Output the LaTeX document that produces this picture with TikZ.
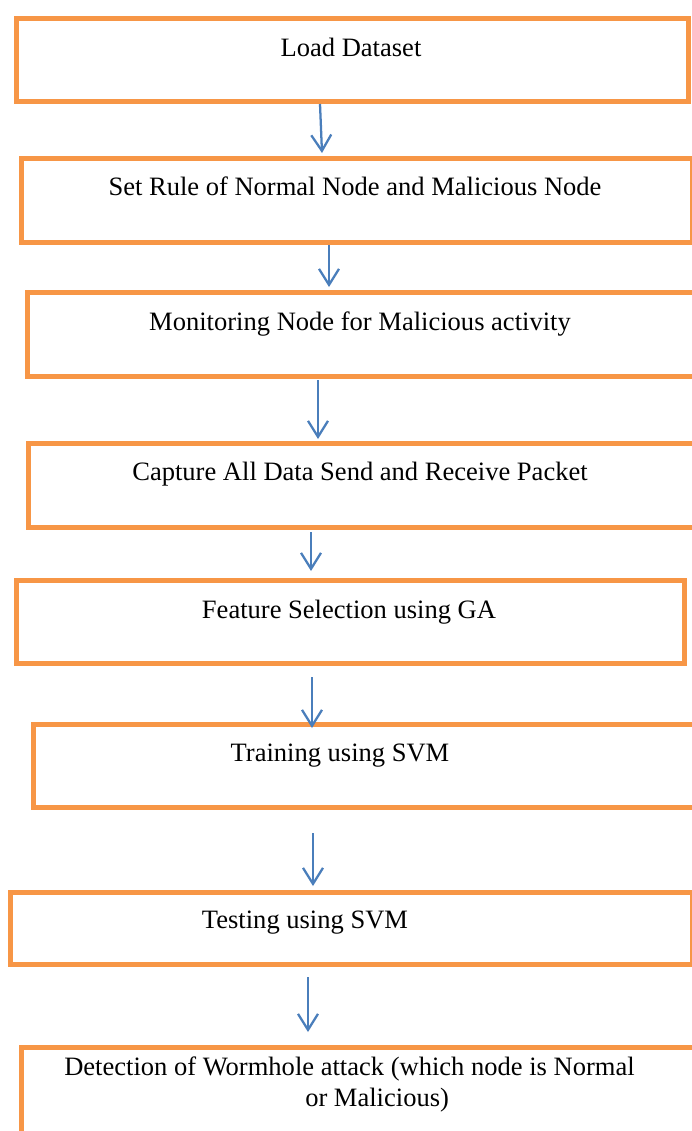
\documentclass[tikz,border=0pt]{standalone}
\usepackage{fontspec}
\setmainfont{Liberation Serif}
\usetikzlibrary{arrows.meta, calc}
\definecolor{boxOrange}{RGB}{247,150,70}
\definecolor{arrowBlue}{RGB}{74,126,187}
\tikzset{stepBox/.style={shape=rectangle, draw=boxOrange, line width=3.75pt, fill=none, anchor=north west, inner sep=0pt}}
\tikzset{stepText/.style={anchor=base, align=center, inner sep=0pt, font=\fontsize{19.9}{23.25}\selectfont}}
\tikzset{flowArrow/.style={draw=arrowBlue, line width=1.7pt, -{Straight Barb[length=12pt, width=15pt]}}}

\begin{document}
\begin{tikzpicture}[x=0.75pt, y=-0.75pt]

\useasboundingbox (0,0) rectangle (692,1131);
\fill[white] (0,0) rectangle (692,1131);

% Boxes
\node[stepBox, minimum width=504pt, minimum height=62.25pt] (b1) at (14,16) {};
\node[stepBox, minimum width=503.25pt, minimum height=63pt] (b2) at (19,156) {};
\node[stepBox, minimum width=501pt, minimum height=63pt] (b3) at (25,290) {};
\node[stepBox, minimum width=501.75pt, minimum height=63pt] (b4) at (26,441) {};
\node[stepBox, minimum width=501pt, minimum height=62.25pt] (b5) at (14,578) {};
\node[stepBox, minimum width=500.25pt, minimum height=62.25pt] (b6) at (31,722) {};
\node[stepBox, minimum width=511.5pt, minimum height=54pt] (b7) at (8,890) {};
\node[stepBox, minimum width=510.75pt, minimum height=78.75pt] (b8) at (19,1045) {};

% Texts
\node[stepText] (t1) at (351,57) {Load Dataset};
\node[stepText] (t2) at (355,195) {Set Rule of Normal Node and Malicious Node};
\node[stepText] (t3) at (360,330) {Monitoring Node for Malicious activity};
\node[stepText] (t4) at (360,480) {Capture All Data Send and Receive Packet};
\node[stepText] (t5) at (349,618) {Feature Selection using GA};
\node[stepText] (t6) at (340,761) {Training using SVM};
\node[stepText] (t7) at (305,928) {Testing using SVM};
\node[stepText, anchor=base west, align=left] (t8) at (64,1106)
  {Detection of Wormhole attack (which node is Normal\\\hspace*{180.75pt}or Malicious)};

% Arrows
\draw[flowArrow] ($(b1.south west)+(306,0)$) -- ($(b2.north west)+(303,-3)$);
\draw[flowArrow] ($(b2.south west)+(310,0)$) -- ($(b3.north west)+(304,-3)$);
\draw[flowArrow] ($(b3.south west)+(293,1)$) -- ($(b4.north west)+(292,-2)$);
\draw[flowArrow] ($(b4.south west)+(285,2)$) -- ($(b5.north west)+(297,-7)$);
\draw[flowArrow] ($(b5.south west)+(298,11)$) -- ($(b6.north west)+(281,6)$);
\draw[flowArrow] ($(b6.south west)+(282,23)$) -- ($(b7.north west)+(305,-4)$);
\draw[flowArrow] ($(b7.south west)+(300,10)$) -- ($(b8.north west)+(289,-13)$);

\end{tikzpicture}
\end{document}
